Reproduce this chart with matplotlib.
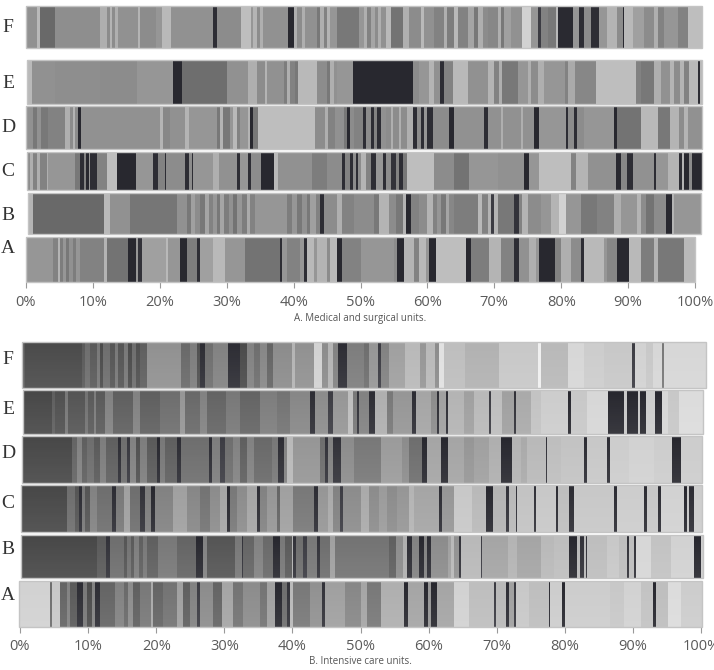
import matplotlib.pyplot as plt
import numpy as np
from matplotlib.patches import Rectangle

# ---- data: each row is (end %, gray level) stripes, starting at *_start ----
row_names = ["F", "E", "D", "C", "B", "A"]

# A. Medical and surgical units
a_f_start = 0.0
a_f = [(1.7,145),(2.1,185),(4.3,105),(11.1,142),(12.1,175),(12.5,140),(12.8,180),(13.3,140),(13.8,175),(16.8,145),(17.1,180),(19.5,140),(20.4,150),(21.6,185),(28.0,145),(28.5,45),(32.1,140),(33.6,190),(34.0,150),(34.5,180),(35.0,140),(35.5,175),(39.2,145),(40.0,40),(40.5,175),(41.2,140),(41.7,175),(43.5,145),(44.0,120),(44.5,175),(45.0,130),(45.5,180),(46.5,150),(49.8,120),(50.5,150),(51.0,175),(51.6,130),(52.1,165),(52.6,140),(53.0,175),(53.8,145),(54.5,185),(56.3,115),(57.3,175),(59.0,140),(59.5,185),(61.0,145),(62.5,130),(63.0,175),(64.0,125),(64.5,185),(66.0,130),(67.0,165),(67.5,120),(68.3,175),(69.0,140),(70.5,135),(71.0,175),(71.5,120),(72.5,160),(74.2,145),(75.5,210),(76.5,150),(77.0,60),(78.0,130),(79.2,120),(79.5,185),(81.7,42),(82.7,150),(83.4,45),(84.4,140),(85.7,45),(86.9,150),(88.4,180),(89.2,140),(89.4,40),(90.7,185),(92.4,160),(93.9,140),(94.4,175),(95.4,130),(97.4,150),(98.9,130),(101.1,190)]
a_e_start = 0.2
a_e = [(0.95,185),(4.3,145),(11.1,142),(16.6,140),(22.0,150),(23.3,40),(30.0,110),(33.2,145),(34.5,175),(35.7,140),(36.0,180),(38.5,145),(39.0,125),(39.5,175),(40.2,130),(40.7,120),(43.5,185),(45.0,140),(45.5,120),(46.0,175),(46.5,145),(48.95,150),(57.8,40),(58.8,140),(60.3,150),(61.0,180),(61.9,145),(62.5,45),(63.8,130),(66.0,185),(69.0,145),(70.0,180),(70.7,130),(71.2,175),(73.5,120),(75.0,150),(75.5,175),(76.5,140),(77.5,175),(80.5,150),(81.0,130),(82.0,170),(85.2,135),(91.2,190),(91.9,130),(93.9,120),(94.9,175),(96.2,145),(96.9,180),(97.7,140),(98.4,180),(99.1,130),(100.4,185),(100.8,45),(101.1,185)]
a_d_start = 0.0
a_d = [(1.1,145),(1.6,120),(2.3,145),(3.3,120),(5.8,130),(6.6,175),(7.0,140),(7.3,180),(7.8,140),(8.2,40),(20.0,145),(20.5,180),(21.5,135),(23.8,145),(24.3,180),(28.5,150),(29.0,120),(29.5,180),(30.5,120),(31.0,150),(31.5,185),(32.0,130),(33.2,150),(33.5,180),(34.0,40),(34.7,120),(43.2,190),(44.7,140),(45.2,175),(46.2,130),(47.5,145),(48.0,120),(48.5,40),(49.05,140),(50.3,130),(50.8,45),(51.5,140),(52.0,45),(52.5,130),(53.0,45),(53.8,145),(54.5,140),(54.8,175),(55.8,140),(56.1,175),(57.0,140),(57.9,175),(58.5,45),(59.0,140),(59.5,45),(60.0,150),(60.8,45),(63.3,140),(64.0,40),(68.5,145),(69.0,45),(71.0,145),(71.3,175),(74.0,145),(74.3,175),(76.0,145),(76.7,40),(80.7,150),(81.0,45),(81.9,140),(82.4,45),(83.4,140),(87.9,150),(88.4,40),(91.9,115),(94.4,185),(96.2,120),(97.6,180),(98.4,140),(98.9,180),(101.1,145)]
a_c_start = 0.1
a_c = [(0.6,140),(1.1,175),(1.6,130),(2.1,175),(3.1,130),(3.3,175),(7.3,150),(8.1,120),(8.6,45),(9.0,130),(9.35,40),(9.6,150),(10.6,45),(12.1,130),(13.6,190),(16.5,40),(19.0,150),(19.8,45),(20.8,130),(21.0,45),(23.8,140),(24.3,45),(24.8,140),(25.0,45),(28.0,150),(28.8,175),(31.5,145),(32.0,45),(33.2,150),(33.7,45),(35.2,140),(37.0,40),(37.7,185),(42.7,145),(45.0,125),(47.2,140),(47.7,45),(48.5,130),(48.9,45),(49.3,140),(49.7,45),(50.0,140),(50.8,180),(51.5,130),(52.3,45),(53.3,150),(53.8,45),(54.5,140),(55.3,50),(55.8,130),(56.3,45),(57.0,120),(61.0,190),(64.0,140),(66.2,115),(70.5,150),(74.5,145),(75.2,40),(76.7,150),(81.5,190),(82.2,130),(84.0,180),(88.2,145),(89.0,40),(89.9,135),(90.7,45),(93.9,145),(94.2,45),(95.9,150),(97.6,180),(98.1,45),(98.4,180),(99.1,40),(99.6,140),(101.1,40)]
a_b_start = 0.35
a_b = [(1.1,180),(11.6,105),(12.6,185),(15.6,145),(22.5,118),(24.0,145),(24.7,120),(25.3,160),(26.0,140),(26.8,120),(27.3,165),(28.0,130),(28.5,150),(29.0,120),(29.6,165),(30.3,125),(31.0,145),(31.5,115),(32.3,150),(33.0,125),(33.5,170),(34.3,130),(39.0,150),(39.8,125),(40.5,150),(41.2,120),(42.0,145),(42.5,120),(43.3,160),(44.0,130),(44.5,45),(46.5,140),(47.2,175),(49.0,130),(52.0,140),(52.8,120),(54.3,180),(55.3,140),(56.3,120),(56.8,180),(57.6,40),(58.8,130),(60.0,140),(60.8,180),(61.5,130),(62.0,150),(62.8,120),(63.3,165),(64.0,135),(67.5,125),(68.2,185),(69.0,130),(69.5,180),(70.0,60),(70.5,180),(73.0,120),(73.7,50),(74.2,130),(75.0,180),(77.0,140),(78.5,150),(79.7,180),(80.7,210),(83.0,150),(85.4,120),(87.9,130),(88.9,175),(91.4,150),(91.9,180),(92.7,140),(93.9,115),(95.7,140),(96.6,40),(96.9,180),(100.9,150)]
a_a_start = 0.0
a_a = [(4.1,150),(4.8,130),(5.1,180),(5.6,125),(6.0,150),(6.5,120),(7.0,145),(7.5,125),(8.1,150),(11.6,130),(12.1,180),(15.3,115),(16.5,40),(16.8,150),(17.3,50),(21.0,160),(21.3,185),(23.0,150),(24.0,40),(25.5,125),(26.0,45),(28.0,160),(29.8,185),(32.8,150),(38.0,115),(38.3,45),(39.0,150),(41.0,130),(41.5,150),(42.0,45),(43.0,185),(43.5,150),(45.0,180),(45.5,140),(46.5,185),(47.2,40),(50.05,130),(55.0,150),(55.5,140),(56.5,40),(58.0,180),(58.8,130),(59.8,185),(60.3,150),(61.3,40),(65.8,190),(66.5,40),(69.2,125),(71.0,180),(73.0,130),(73.7,45),(75.2,145),(76.2,175),(76.7,150),(79.0,40),(80.0,130),(81.4,175),(82.9,140),(83.4,45),(86.4,185),(86.9,150),(88.4,135),(90.2,40),(91.9,185),(93.9,125),(94.4,180),(98.4,120),(100.0,185)]

# B. Intensive care units
b_f_start = 0.24
b_f = [(0.7,90),(9.1,75),(9.6,90),(10.3,110),(11.3,90),(11.75,120),(12.2,75),(13.2,110),(13.9,85),(14.4,120),(15.2,85),(15.9,120),(16.4,75),(17.1,110),(17.6,80),(18.6,95),(23.7,145),(24.96,105),(25.95,125),(26.4,80),(27.2,45),(28.4,110),(30.6,130),(32.3,45),(33.3,75),(34.3,130),(35.2,110),(36.2,135),(37.2,100),(39.9,140),(40.4,180),(43.1,145),(44.3,210),(45.3,140),(46.0,180),(46.7,130),(48.0,45),(50.5,125),(51.3,110),(52.5,150),(53.0,60),(54.2,130),(56.6,160),(58.8,185),(59.6,150),(61.0,185),(61.5,140),(62.3,225),(65.4,190),(70.3,178),(76.0,200),(76.5,240),(80.4,185),(82.8,215),(85.8,205),(89.9,200),(90.3,60),(91.9,210),(92.9,200),(94.3,215),(94.6,120),(100.8,215)]
b_e_start = 0.4
b_e = [(4.65,72),(5.1,95),(6.6,80),(7.1,120),(9.5,85),(10.0,115),(10.8,90),(11.2,125),(12.5,90),(13.7,130),(16.6,95),(17.6,130),(20.6,95),(23.5,110),(24.2,150),(26.4,105),(27.4,130),(30.3,100),(32.3,120),(35.2,100),(37.7,125),(39.6,115),(42.6,135),(43.3,45),(45.3,140),(46.0,60),(48.2,150),(48.95,190),(49.5,120),(49.8,50),(51.3,130),(52.2,45),(53.95,175),(54.7,120),(57.6,150),(58.1,45),(60.3,165),(61.3,140),(61.55,45),(62.5,160),(62.85,45),(65.2,180),(66.7,160),(68.9,185),(69.1,60),(70.8,190),(72.5,160),(72.8,50),(75.0,170),(76.5,195),(80.4,205),(80.9,40),(83.3,200),(86.3,215),(88.7,40),(89.1,200),(90.7,40),(91.1,200),(91.9,40),(93.3,205),(94.3,40),(95.1,215),(96.8,200),(100.35,220)]
b_d_start = 0.24
b_d = [(7.6,72),(8.3,100),(9.05,130),(9.8,95),(10.8,110),(11.75,90),(12.7,125),(14.4,95),(14.9,45),(15.7,110),(16.2,55),(17.1,130),(17.6,80),(18.6,125),(20.1,90),(20.6,40),(21.3,120),(23.0,95),(23.7,45),(27.7,110),(28.2,45),(29.4,125),(30.1,60),(31.3,110),(32.3,130),(33.3,95),(34.3,130),(36.96,105),(37.9,120),(38.7,45),(39.2,130),(40.1,185),(44.1,150),(44.8,110),(45.3,50),(46.0,130),(47.2,50),(49.05,140),(53.0,120),(56.1,155),(57.1,140),(59.1,110),(59.8,40),(61.8,165),(62.8,40),(65.2,165),(66.7,150),(68.9,160),(70.6,175),(72.3,40),(73.5,180),(74.5,170),(77.2,185),(77.4,50),(79.4,190),(82.8,195),(83.3,45),(86.25,200),(86.65,45),(89.4,205),(93.1,210),(95.8,205),(97.0,40),(100.2,205)]
b_c_start = 0.1
b_c = [(6.85,72),(8.1,110),(8.6,85),(9.05,45),(9.55,120),(10.3,85),(11.3,130),(13.5,110),(14.1,45),(15.2,120),(16.2,160),(17.6,110),(18.4,50),(19.3,125),(19.8,40),(22.5,130),(24.5,160),(26.4,135),(27.9,115),(29.4,140),(30.4,165),(30.8,40),(31.8,120),(33.3,140),(34.8,165),(35.2,45),(36.2,130),(37.7,150),(38.2,100),(40.1,160),(43.1,120),(43.8,45),(45.3,150),(46.0,170),(47.0,130),(47.5,60),(50.0,140),(51.3,170),(52.7,140),(53.95,155),(55.4,140),(57.1,150),(57.9,180),(61.5,165),(61.9,45),(63.7,150),(66.4,200),(68.5,185),(69.5,40),(71.3,180),(71.8,50),(72.8,185),(73.05,50),(75.5,195),(75.7,50),(78.7,200),(79.0,45),(80.6,190),(81.3,45),(87.2,200),(87.6,45),(91.6,205),(92.0,45),(93.7,200),(94.1,45),(97.5,210),(97.9,40),(98.2,200),(99.0,45),(100.2,205)]
b_b_start = 0.1
b_b = [(11.3,72),(12.7,90),(13.2,50),(15.2,110),(15.7,85),(16.3,115),(16.8,90),(17.5,125),(18.0,95),(18.6,120),(20.3,95),(23.0,120),(25.9,100),(26.9,40),(27.4,130),(31.6,85),(32.6,120),(32.8,50),(34.3,100),(35.7,130),(37.2,105),(38.2,40),(38.9,120),(39.9,90),(40.1,180),(40.6,50),(41.6,110),(42.1,60),(43.6,120),(44.1,50),(45.5,110),(46.3,160),(54.2,115),(55.2,95),(56.2,140),(56.9,175),(57.6,45),(58.6,130),(59.3,40),(59.8,130),(60.3,45),(62.8,140),(63.3,160),(63.7,185),(64.5,145),(64.7,50),(67.7,185),(67.9,60),(71.6,165),(73.0,180),(76.5,165),(78.4,185),(80.6,190),(81.85,40),(82.3,185),(82.8,50),(83.05,185),(83.3,50),(86.25,190),(87.9,200),(89.2,190),(89.4,50),(90.2,190),(90.4,50),(92.6,215),(95.55,195),(99.0,210),(100.0,40),(100.35,205)]
b_a_start = -0.1
b_a = [(4.4,210),(4.65,110),(5.9,200),(6.85,100),(7.35,130),(8.3,90),(9.3,45),(9.8,120),(10.5,75),(11.0,130),(11.75,45),(13.95,100),(15.2,130),(15.9,105),(16.6,140),(17.6,95),(19.3,120),(19.55,170),(21.0,100),(23.0,115),(23.95,160),(24.95,95),(25.95,130),(26.4,60),(28.4,140),(29.6,100),(31.3,165),(32.8,115),(35.2,140),(36.2,115),(37.4,160),(38.4,40),(39.2,110),(39.7,50),(40.1,185),(42.6,120),(44.3,145),(44.8,50),(47.7,160),(50.0,135),(51.0,165),(53.0,120),(56.4,175),(57.0,40),(59.3,165),(59.9,40),(60.3,150),(61.3,40),(63.7,165),(65.9,210),(69.6,190),(69.85,60),(71.3,185),(71.8,45),(72.55,160),(72.8,55),(74.75,200),(77.7,190),(77.9,45),(79.6,205),(80.1,40),(86.7,205),(88.7,200),(91.15,210),(92.9,195),(93.35,40),(95.1,190),(97.0,220),(100.2,205)]

ticks = list(range(0, 101, 10))

# ---- layout (pixel rows, top/bottom) ----
W, H = 714, 670
rows_a_px = [(6, 48), (60, 104), (106, 149), (152, 190), (193, 234), (237, 282)]
rows_b_px = [(342, 388), (390, 434), (436, 483), (485, 532), (535, 578), (581, 627)]
labels_a_y = [28, 83, 128, 172, 216, 248]
labels_b_y = [360, 410, 453, 503, 550, 595]


def gcol(g):
    if g < 70:
        return (g / 255, g / 255, min(1, (g + 7) / 255))
    return (g / 255, g / 255, g / 255)


def draw_panel(ax, rows, starts, spans, shade=0.0):
    for (start, segs), (top, bot) in zip(zip(starts, rows), spans):
        lefts = [start] + [e for e, _ in segs[:-1]]
        widths = [e - l for (e, _), l in zip(segs, lefts)]
        cols = [gcol(g) for _, g in segs]
        h = bot - top
        end = segs[-1][0]
        ax.barh((top + bot) / 2, widths, left=lefts, height=h, color=cols,
                linewidth=0, clip_on=False)
        if shade > 0:
            # soft vertical sheen, lighter toward the bottom of each strip
            grad = np.zeros((64, 2, 4))
            grad[..., :3] = 1.0
            grad[..., 3] = np.linspace(0, shade, 64)[:, None]
            ax.imshow(grad, extent=(start, end, bot, top), aspect="auto",
                      interpolation="bilinear", clip_on=False, zorder=2)
        ax.add_patch(Rectangle((start, top), end - start, h, fill=False,
                               edgecolor="#c4c4c4", lw=1.0, clip_on=False, zorder=3))


fig = plt.figure(figsize=(W / 100, H / 100), dpi=100)

axA = fig.add_axes([26 / W, 1 - 282 / H, (695 - 26) / W, 282 / H])
draw_panel(axA, [a_f, a_e, a_d, a_c, a_b, a_a],
           [a_f_start, a_e_start, a_d_start, a_c_start, a_b_start, a_a_start], rows_a_px)
axA.set_xlim(0, 100)
axA.set_ylim(282, 0)

axB = fig.add_axes([20 / W, 1 - 627 / H, (701 - 20) / W, (627 - 336) / H])
draw_panel(axB, [b_f, b_e, b_d, b_c, b_b, b_a],
           [b_f_start, b_e_start, b_d_start, b_c_start, b_b_start, b_a_start], rows_b_px,
           shade=0.08)
axB.set_xlim(0, 100)
axB.set_ylim(627, 336)

for ax in (axA, axB):
    for s in ax.spines.values():
        s.set_visible(False)
    ax.set_yticks([])
    ax.set_xticks(ticks)
    ax.set_xticklabels([f"{t}%" for t in ticks], family="Open Sans")
    ax.tick_params(axis="x", length=4, width=0.8, color="#999999",
                   labelcolor="#5a5a5a", labelsize=10.5, pad=5)
    ax.patch.set_alpha(0)

for name, y in zip(row_names, labels_a_y):
    fig.text(8 / W, 1 - y / H, name, ha="center", va="center",
             family="Liberation Serif", size=14, color="#333333")
for name, y in zip(row_names, labels_b_y):
    fig.text(8 / W, 1 - y / H, name, ha="center", va="center",
             family="Liberation Serif", size=14, color="#333333")

fig.text(360 / W, 1 - 318 / H, "A. Medical and surgical units.", ha="center",
         va="center", family="Open Sans", size=7, color="#555555")
fig.text(360 / W, 1 - 662 / H, "B. Intensive care units.", ha="center",
         va="center", family="Open Sans", size=7, color="#555555")

fig.savefig("out.png", dpi=100)
